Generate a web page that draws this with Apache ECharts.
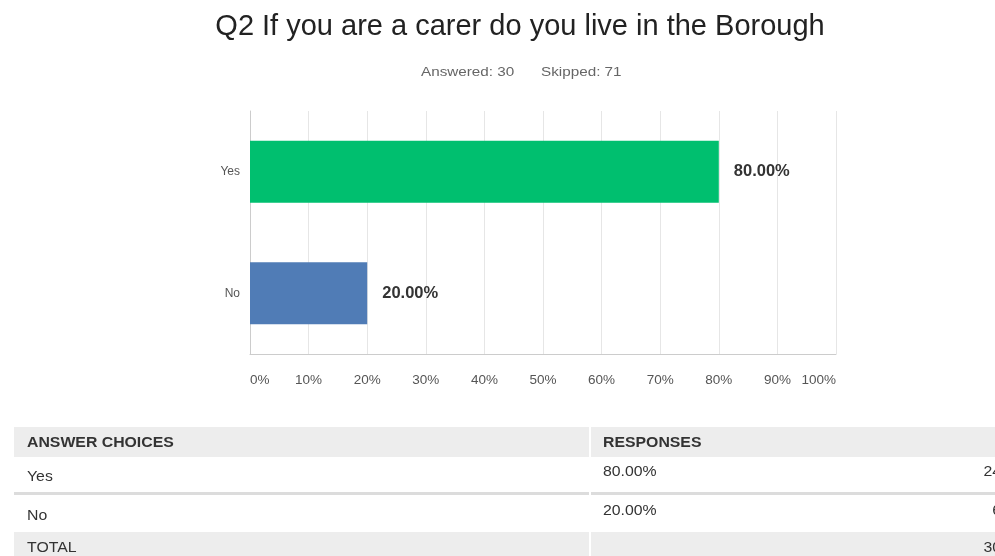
<!DOCTYPE html>
<html><head><meta charset="utf-8">
<script src="https://cdn.jsdelivr.net/npm/echarts@6/dist/echarts.min.js"></script>
<style>html,body{margin:0;padding:0;background:#fff}#c{width:995px;height:556px}</style>
</head><body><div id="c"></div>
<script>
var titleText = 'Q2 If you are a carer do you live in the Borough';
var answeredCount = 30;
var skippedCount = 71;
var categories = ['Yes', 'No'];
var percentValues = [80, 20];
var responseCounts = [24, 6];
var totalCount = 30;
var barColors = ['#00BF6F', '#507CB6'];

var chart = echarts.init(document.getElementById('c'));
var FONT = 'Liberation Sans, Arial, sans-serif';
var SX = 1.13;

function txt(x, y, s, opts) {
  opts = opts || {};
  return {type:'text', x:x, y:y, scaleX:SX,
    style:{text:s, font:(opts.weight||'normal')+' '+(opts.size||14)+'px '+FONT,
      fill:opts.fill||'#333', textAlign:opts.align||'left', textVerticalAlign:'middle'}};
}

var g = [];
g.push(txt(421, 72, 'Answered: '+answeredCount, {fill:'#666', size:13.5}));
g.push(txt(541, 72, 'Skipped: '+skippedCount, {fill:'#666', size:13.5}));
// header band
g.push({type:'rect', shape:{x:14,y:427,width:981,height:30}, style:{fill:'#ededed'}});
g.push({type:'rect', shape:{x:589,y:427,width:2,height:30}, style:{fill:'#ffffff'}});
// separator between rows
g.push({type:'rect', shape:{x:14,y:492,width:981,height:3}, style:{fill:'#dcdcdc'}});
g.push({type:'rect', shape:{x:589,y:492,width:2,height:3}, style:{fill:'#ffffff'}});
// total band
g.push({type:'rect', shape:{x:14,y:532,width:981,height:24}, style:{fill:'#ededed'}});
g.push({type:'rect', shape:{x:589,y:532,width:2,height:24}, style:{fill:'#ffffff'}});
g.push(txt(27, 443, 'ANSWER CHOICES', {weight:'bold'}));
g.push(txt(603, 443, 'RESPONSES', {weight:'bold'}));
var rowTextY = [477, 516];
var pctY = [472, 511];
categories.forEach(function(c,i){
  g.push(txt(27, rowTextY[i], c));
  g.push(txt(603, pctY[i], percentValues[i].toFixed(2)+'%'));
  g.push(txt(1001, pctY[i], String(responseCounts[i]), {align:'right'}));
});
g.push(txt(27, 548, 'TOTAL'));
g.push(txt(1001, 548, String(totalCount), {align:'right'}));

chart.setOption({
  animation:false,
  title:{
    text:titleText,
    left:515, textAlign:'center', top:7,
    textStyle:{fontFamily:FONT, fontSize:29, fontWeight:'normal', color:'#222'}
  },
  grid:{left:250, right:159, top:111, bottom:202, containLabel:false},
  xAxis:{
    type:'value', min:0, max:100, interval:10,
    axisLine:{show:true, lineStyle:{color:'#cccccc'}},
    axisTick:{show:false},
    splitLine:{show:true, lineStyle:{color:'#e6e6e6'}},
    axisLabel:{formatter:'{value}%', color:'#555', fontFamily:FONT, fontSize:13.5, margin:19,
      alignMinLabel:'left', alignMaxLabel:'right'}
  },
  yAxis:{
    type:'category', data:categories, inverse:true,
    axisLine:{show:true, lineStyle:{color:'#cccccc'}},
    axisTick:{show:false},
    axisLabel:{color:'#555', fontFamily:FONT, fontSize:12, margin:10}
  },
  series:[{
    type:'bar', barWidth:62,
    data:percentValues.map(function(v,i){return {value:v, itemStyle:{color:barColors[i]}};}),
    label:{show:true, position:'right', distance:15, formatter:function(p){return p.value.toFixed(2)+'%';},
      fontFamily:FONT, fontSize:16.5, fontWeight:'bold', color:'#333'}
  }],
  graphic:g
});
</script></body></html>
